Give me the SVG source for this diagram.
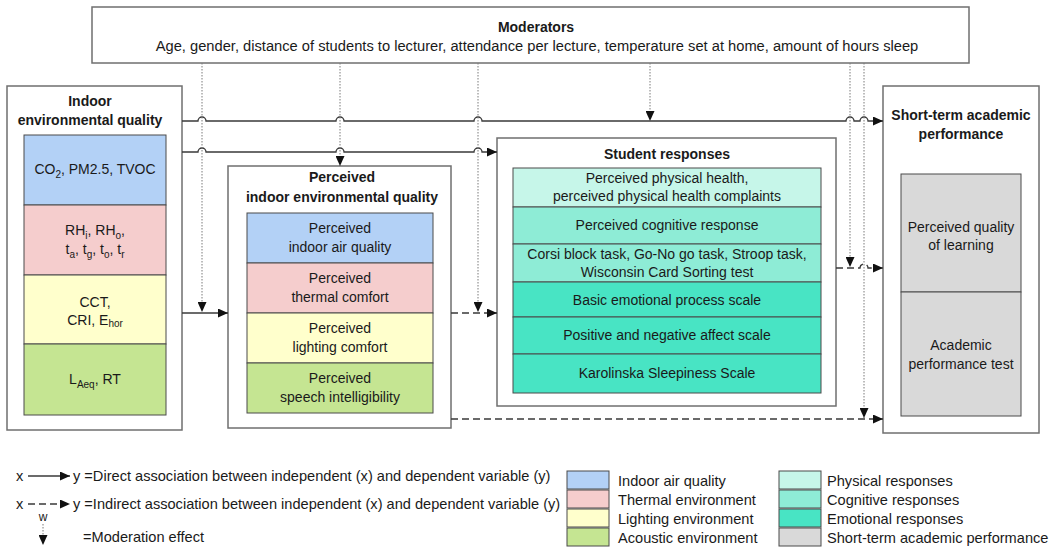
<svg xmlns="http://www.w3.org/2000/svg" width="1056" height="547" viewBox="0 0 1056 547">
  <style>
    text { font-family: "Liberation Sans", Arial, sans-serif; font-size: 14px; fill: #1a1a1a; }
    .b { font-weight: bold; }
    .c { text-anchor: middle; }
    .lg { font-size: 14.6px; }
    .sub14 { font-size: 14.7px; }
    .w { font-size: 12px; }
    .outer { fill: #ffffff; stroke: #6f6f6f; stroke-width: 1.5; }
    .cell { stroke: #4a4a4a; stroke-width: 1; }
    .air { fill: #b3d1f6; }
    .thermal { fill: #f5cdcd; }
    .light { fill: #ffffcc; }
    .acou { fill: #c5e592; }
    .phys { fill: #c6f6e9; }
    .cogn { fill: #8eecd6; }
    .emo { fill: #48e4c4; }
    .perf { fill: #d9d9d9; }
    .solid { fill: none; stroke: #3a3a3a; stroke-width: 1.3; }
    .dash { fill: none; stroke: #3a3a3a; stroke-width: 1.3; stroke-dasharray: 7 4; }
    .dot { fill: none; stroke: #7a7a7a; stroke-width: 1; stroke-dasharray: 1.5 1.5; }
  </style>
  <defs>
    <marker id="arrow" markerUnits="userSpaceOnUse" markerWidth="11" markerHeight="9" refX="10" refY="4.5" orient="auto">
      <path d="M0,0 L10,4.5 L0,9 z" fill="#111"/>
    </marker>
  </defs>

  <!-- Moderators -->
  <g id="moderators">
    <rect class="outer" x="92" y="7" width="877" height="56"/>
    <text class="b c" x="536" y="32">Moderators</text>
    <text class="c sub14" x="537" y="51">Age, gender, distance of students to lecturer, attendance per lecture, temperature set at home, amount of hours sleep</text>
  </g>

  <!-- Indoor environmental quality -->
  <g id="ieq">
    <rect class="outer" x="7" y="86" width="175" height="344"/>
    <text class="b c" x="90" y="106">Indoor</text>
    <text class="b c" x="90" y="125">environmental quality</text>
    <rect class="cell air" x="24" y="135" width="142" height="70"/>
    <rect class="cell thermal" x="24" y="205" width="142" height="70"/>
    <rect class="cell light" x="24" y="275" width="142" height="69"/>
    <rect class="cell acou" x="24" y="344" width="142" height="71"/>
    <text class="c" x="95" y="174">CO<tspan font-size="10" dy="4">2</tspan><tspan dy="-4">, PM2.5, TVOC</tspan></text>
    <text class="c" x="95" y="235">RH<tspan font-size="10" dy="4">i</tspan><tspan dy="-4">, RH</tspan><tspan font-size="10" dy="4">o</tspan><tspan dy="-4">,</tspan></text>
    <text class="c" x="95" y="254">t<tspan font-size="10" dy="4">a</tspan><tspan dy="-4">, t</tspan><tspan font-size="10" dy="4">g</tspan><tspan dy="-4">, t</tspan><tspan font-size="10" dy="4">o</tspan><tspan dy="-4">, t</tspan><tspan font-size="10" dy="4">r</tspan></text>
    <text class="c" x="95" y="307">CCT,</text>
    <text class="c" x="95" y="325">CRI, E<tspan font-size="10" dy="2">hor</tspan></text>
    <text class="c" x="95" y="384">L<tspan font-size="10" dy="4">Aeq</tspan><tspan dy="-4">, RT</tspan></text>
  </g>

  <!-- Perceived indoor environmental quality -->
  <g id="pieq">
    <rect class="outer" x="228" y="166" width="223" height="262"/>
    <text class="b c" x="342" y="182">Perceived</text>
    <text class="b c" x="342" y="202">indoor environmental quality</text>
    <rect class="cell air" x="247" y="213" width="186" height="50"/>
    <rect class="cell thermal" x="247" y="263" width="186" height="50"/>
    <rect class="cell light" x="247" y="313" width="186" height="50"/>
    <rect class="cell acou" x="247" y="363" width="186" height="50"/>
    <text class="c" x="340" y="233">Perceived</text>
    <text class="c" x="340" y="252">indoor air quality</text>
    <text class="c" x="340" y="283">Perceived</text>
    <text class="c" x="340" y="302">thermal comfort</text>
    <text class="c" x="340" y="333">Perceived</text>
    <text class="c" x="340" y="352">lighting comfort</text>
    <text class="c" x="340" y="383">Perceived</text>
    <text class="c" x="340" y="402">speech intelligibility</text>
  </g>

  <!-- Student responses -->
  <g id="responses">
    <rect class="outer" x="497" y="138" width="339" height="268"/>
    <text class="b c" x="667" y="159">Student responses</text>
    <rect class="cell phys" x="513" y="168" width="308" height="39"/>
    <rect class="cell cogn" x="513" y="207" width="308" height="37"/>
    <rect class="cell cogn" x="513" y="244" width="308" height="38"/>
    <rect class="cell emo" x="513" y="282" width="308" height="35"/>
    <rect class="cell emo" x="513" y="317" width="308" height="37"/>
    <rect class="cell emo" x="513" y="354" width="308" height="39"/>
    <text class="c" x="667" y="183">Perceived physical health,</text>
    <text class="c" x="667" y="201">perceived physical health complaints</text>
    <text class="c" x="667" y="230">Perceived cognitive response</text>
    <text class="c" x="667" y="259">Corsi block task, Go-No go task, Stroop task,</text>
    <text class="c" x="667" y="277">Wisconsin Card Sorting test</text>
    <text class="c" x="667" y="305">Basic emotional process scale</text>
    <text class="c" x="667" y="340">Positive and negative affect scale</text>
    <text class="c" x="667" y="378">Karolinska Sleepiness Scale</text>
  </g>

  <!-- Short-term academic performance -->
  <g id="performance">
    <rect class="outer" x="883" y="86" width="156" height="347"/>
    <text class="b c" x="961" y="120">Short-term academic</text>
    <text class="b c" x="961" y="139">performance</text>
    <rect class="cell perf" x="901" y="174" width="120" height="118"/>
    <rect class="cell perf" x="901" y="292" width="120" height="124"/>
    <text class="c" x="961" y="232">Perceived quality</text>
    <text class="c" x="961" y="250">of learning</text>
    <text class="c" x="961" y="350">Academic</text>
    <text class="c" x="961" y="369">performance test</text>
  </g>

  <!-- Connectors -->
  <g id="connectors">
    <!-- direct paths, with hops over the moderator lines -->
    <path class="solid" marker-end="url(#arrow)" d="M182,121 H198 a4,4 0 0 1 8,0 H336 a4,4 0 0 1 8,0 H474 a4,4 0 0 1 8,0 H846 a4,4 0 0 1 8,0 H860 a4,4 0 0 1 8,0 H883"/>
    <path class="solid" marker-end="url(#arrow)" d="M182,152 H198 a4,4 0 0 1 8,0 H336 a4,4 0 0 1 8,0 H474 a4,4 0 0 1 8,0 H497"/>
    <path class="solid" marker-end="url(#arrow)" d="M182,313 H228"/>
    <!-- indirect paths -->
    <path class="dash" marker-end="url(#arrow)" d="M451,313 H497"/>
    <path class="dash" marker-end="url(#arrow)" d="M836,268 H860 a4,4 0 0 1 8,0 H883"/>
    <path class="dash" marker-end="url(#arrow)" d="M451,419 H883"/>
    <!-- moderation effects -->
    <path class="dot" marker-end="url(#arrow)" d="M202,63 V312"/>
    <path class="dot" marker-end="url(#arrow)" d="M340,63 V166"/>
    <path class="dot" marker-end="url(#arrow)" d="M478,63 V312"/>
    <path class="dot" marker-end="url(#arrow)" d="M650,63 V121"/>
    <path class="dot" marker-end="url(#arrow)" d="M850,63 V267"/>
    <path class="dot" marker-end="url(#arrow)" d="M864,63 V418"/>
  </g>

  <!-- Legend: line types -->
  <g id="legend-lines">
    <text class="lg" x="16" y="481">x</text>
    <path class="solid" marker-end="url(#arrow)" d="M28,476 H70"/>
    <text class="lg" x="73" y="481">y =Direct association between independent (x) and dependent variable (y)</text>
    <text class="lg" x="16" y="509">x</text>
    <path class="dash" marker-end="url(#arrow)" d="M28,504 H70"/>
    <text class="lg" x="73" y="509">y =Indirect association between independent (x) and dependent variable (y)</text>
    <text class="c w" x="43" y="521">w</text>
    <path class="dot" marker-end="url(#arrow)" d="M43,524 V545"/>
    <text class="lg" x="83" y="542">=Moderation effect</text>
  </g>

  <!-- Legend: colours -->
  <g id="legend-colours">
    <rect class="cell air" x="567" y="471" width="42" height="18"/>
    <rect class="cell thermal" x="567" y="490" width="42" height="18"/>
    <rect class="cell light" x="567" y="509" width="42" height="18"/>
    <rect class="cell acou" x="567" y="528" width="42" height="18"/>
    <text class="lg" x="618" y="486">Indoor air quality</text>
    <text class="lg" x="618" y="505">Thermal environment</text>
    <text class="lg" x="618" y="524">Lighting environment</text>
    <text class="lg" x="618" y="543">Acoustic environment</text>
    <rect class="cell phys" x="779" y="471" width="42" height="18"/>
    <rect class="cell cogn" x="779" y="490" width="42" height="18"/>
    <rect class="cell emo" x="779" y="509" width="42" height="18"/>
    <rect class="cell perf" x="779" y="528" width="42" height="18"/>
    <text class="lg" x="827" y="486">Physical responses</text>
    <text class="lg" x="827" y="505">Cognitive responses</text>
    <text class="lg" x="827" y="524">Emotional responses</text>
    <text class="lg" x="827" y="543">Short-term academic performance</text>
  </g>
</svg>
